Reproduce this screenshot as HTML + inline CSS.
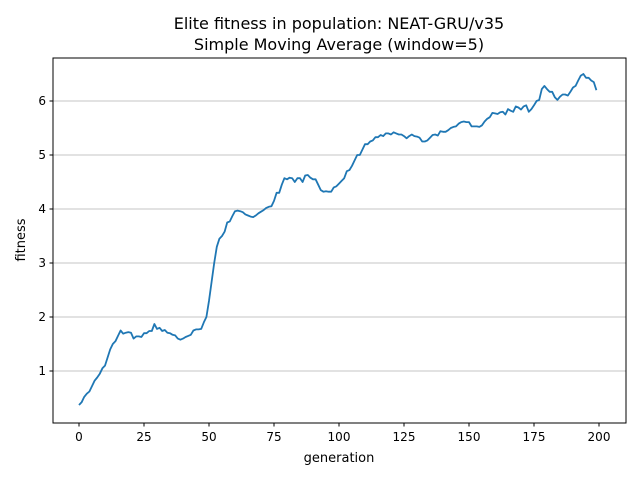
<!DOCTYPE html>
<html><head><meta charset="utf-8"><style>
body{margin:0;background:#fff}
svg text{font-family:"DejaVu Sans","Liberation Sans",sans-serif;fill:#000}
</style></head><body>
<svg id="chart" width="640" height="480" xmlns="http://www.w3.org/2000/svg">
<rect width="640" height="480" fill="#fff"/>
<text x="339" y="29" font-size="16" text-anchor="middle">Elite fitness in population: NEAT-GRU/v35</text>
<text x="339" y="50" font-size="16" text-anchor="middle">Simple Moving Average (window=5)</text>
<g id="grid"></g><g id="ticks"></g>
<path id="line" fill="none" stroke="#1f77b4" stroke-width="1.8" stroke-linejoin="round"/>
<rect x="53" y="58" width="573" height="365" fill="none" stroke="#000" stroke-width="1"/>
<text x="339" y="462" font-size="13" text-anchor="middle">generation</text>
<text x="25" y="240" font-size="13" text-anchor="middle" transform="rotate(-90 25 240)">fitness</text>
</svg>
<script>
const fitness=[0.37,0.42,0.52,0.58,0.62,0.72,0.82,0.88,0.95,1.05,1.1,1.25,1.4,1.5,1.55,1.65,1.75,1.69,1.71,1.72,1.71,1.6,1.64,1.64,1.63,1.7,1.7,1.74,1.74,1.87,1.78,1.8,1.74,1.76,1.71,1.7,1.67,1.66,1.6,1.58,1.6,1.63,1.65,1.67,1.75,1.77,1.77,1.78,1.9,2.0,2.3,2.65,3.0,3.3,3.45,3.5,3.58,3.75,3.77,3.87,3.96,3.97,3.96,3.94,3.9,3.88,3.86,3.85,3.88,3.92,3.95,3.98,4.02,4.04,4.05,4.15,4.3,4.3,4.45,4.57,4.55,4.58,4.57,4.5,4.57,4.57,4.5,4.62,4.63,4.58,4.55,4.55,4.45,4.35,4.32,4.33,4.32,4.32,4.4,4.42,4.47,4.52,4.57,4.7,4.72,4.8,4.9,5.0,5.0,5.1,5.2,5.2,5.25,5.27,5.33,5.33,5.37,5.35,5.4,5.4,5.38,5.42,5.4,5.38,5.38,5.35,5.31,5.35,5.38,5.35,5.34,5.32,5.25,5.25,5.27,5.32,5.37,5.38,5.36,5.44,5.43,5.43,5.46,5.5,5.52,5.53,5.58,5.61,5.62,5.61,5.61,5.53,5.53,5.53,5.52,5.55,5.62,5.67,5.7,5.78,5.77,5.76,5.79,5.8,5.75,5.85,5.82,5.8,5.9,5.88,5.84,5.9,5.92,5.8,5.85,5.92,6.0,6.02,6.22,6.28,6.22,6.17,6.17,6.07,6.02,6.08,6.12,6.12,6.1,6.17,6.25,6.28,6.38,6.47,6.5,6.43,6.43,6.38,6.35,6.2];
const xTicks=[0,25,50,75,100,125,150,175,200];
const yTicks=[1,2,3,4,5,6];
const X=g=>79+g*2.6, Y=v=>425-v*54;
const NS="http://www.w3.org/2000/svg";
const grid=document.getElementById('grid'), ticks=document.getElementById('ticks');
function mk(t,a,p){const e=document.createElementNS(NS,t);for(const k in a)e.setAttribute(k,a[k]);p.appendChild(e);return e;}
yTicks.forEach(v=>{
 const l=mk('line',{x1:53,x2:626,y1:Y(v),y2:Y(v),stroke:'#b0b0b0','stroke-width':0.8},grid);
 
 
 mk('line',{x1:49.5,x2:53,y1:Y(v),y2:Y(v),stroke:'#000'},ticks);
 const t=mk('text',{x:46,y:Y(v)+4,'font-size':12,'text-anchor':'end'},ticks);t.textContent=v;
 
 
});
xTicks.forEach(v=>{
 mk('line',{x1:X(v),x2:X(v),y1:423,y2:426.5,stroke:'#000'},ticks);
 const t=mk('text',{x:X(v),y:441,'font-size':12,'text-anchor':'middle'},ticks);t.textContent=v;
 
 
});
document.getElementById('line').setAttribute('d',fitness.map((v,i)=>(i?'L':'M')+X(i).toFixed(1)+','+Y(v).toFixed(1)).join(''));
</script>
</body></html>
